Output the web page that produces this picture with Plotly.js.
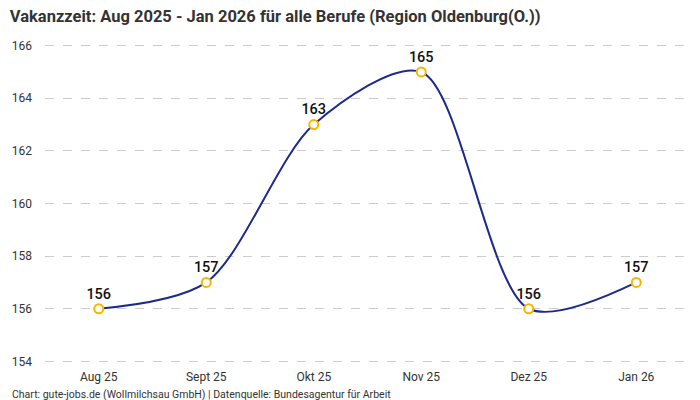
<!DOCTYPE html>
<html>
<head>
<meta charset="utf-8">
<script src="https://cdn.plot.ly/plotly-3.0.1.min.js"></script>
<style>
  html, body { margin: 0; padding: 0; background: #fff; }
  #chart { width: 700px; height: 400px; }
</style>
</head>
<body>
<div id="chart"></div>
<script>
const months = ["Aug 25", "Sept 25", "Okt 25", "Nov 25", "Dez 25", "Jan 26"];
const vakanz = [156, 157, 163, 165, 156, 157];
const yTicks = [154, 156, 158, 160, 162, 164, 166];

const font = "Roboto, 'Noto Sans', sans-serif";

const trace = {
  type: "scatter",
  mode: "lines+markers+text",
  x: months,
  y: vakanz,
  text: vakanz.map(String),
  textposition: "top center",
  textfont: { family: font, size: 14.5, color: "#111", weight: 500 },
  line: { color: "#1c2a8c", width: 2, shape: "spline", smoothing: 0.85 },
  marker: {
    size: 9,
    color: "#ffffff",
    line: { color: "#f7b500", width: 2 },
  },
  cliponaxis: false,
  hoverinfo: "x+y",
};

const layout = {
  width: 700,
  height: 400,
  margin: { l: 45, r: 10, t: 43, b: 36 },
  paper_bgcolor: "#fff",
  plot_bgcolor: "#fff",
  font: { family: font, size: 12, color: "#333" },
  showlegend: false,
  title: {
    text: "Vakanzzeit: Aug 2025 - Jan 2026 für alle Berufe (Region Oldenburg(O.))",
    x: 0.014,
    xanchor: "left",
    y: 0.975,
    yanchor: "top",
    font: { family: font, size: 16.5, color: "#333", weight: "bold" },
  },
  xaxis: {
    type: "category",
    range: [-0.5, 5.5],
    showgrid: false,
    zeroline: false,
    showline: false,
    ticks: "",
    ticklabelstandoff: 4,
    tickfont: { size: 12, color: "#333" },
    fixedrange: true,
  },
  yaxis: {
    range: [153.9, 166.1],
    tickvals: yTicks,
    showgrid: true,
    gridcolor: "#cccccc",
    griddash: "dash",
    gridwidth: 1,
    zeroline: false,
    showline: false,
    ticks: "",
    ticklabelstandoff: 12,
    tickfont: { size: 12, color: "#333" },
    fixedrange: true,
  },
  annotations: [
    {
      text: "Chart: gute-jobs.de (Wollmilchsau GmbH) | Datenquelle: Bundesagentur für Arbeit",
      xref: "paper",
      yref: "paper",
      x: -0.054,
      xanchor: "left",
      y: -0.095,
      yanchor: "middle",
      showarrow: false,
      font: { family: font, size: 10.5, color: "#333" },
    },
  ],
};

Plotly.newPlot("chart", [trace], layout, { displayModeBar: false, staticPlot: true });
</script>
</body>
</html>
